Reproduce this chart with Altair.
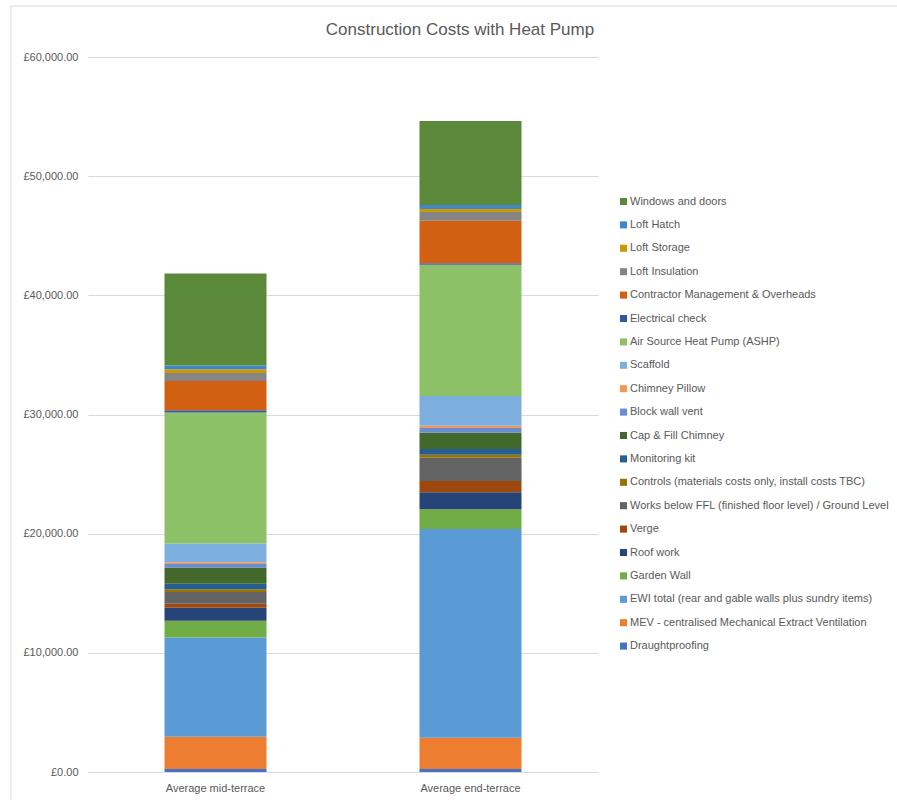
import altair as alt
import pandas as pd

# Cost components, bottom of the stack first
components = [
    "Draughtproofing",
    "MEV - centralised Mechanical Extract Ventilation",
    "EWI total (rear and gable walls plus sundry items)",
    "Garden Wall",
    "Roof work",
    "Verge",
    "Works below FFL (finished floor level) / Ground Level",
    "Controls (materials costs only, install costs TBC)",
    "Monitoring kit",
    "Cap & Fill Chimney",
    "Block wall vent",
    "Chimney Pillow",
    "Scaffold",
    "Air Source Heat Pump (ASHP)",
    "Electrical check",
    "Contractor Management & Overheads",
    "Loft Insulation",
    "Loft Storage",
    "Loft Hatch",
    "Windows and doors",
]

colors = [
    "#4472C4", "#ED7D31", "#5B9BD5", "#70AD47", "#264478",
    "#9E480E", "#636363", "#997300", "#255E91", "#43682B",
    "#698ED0", "#F1975A", "#7CAFDD", "#8CC168", "#335AA1",
    "#D26012", "#858585", "#CC9A00", "#3D87CB", "#5A8A39",
]

house_types = ["Average mid-terrace", "Average end-terrace"]

mid_terrace = [250, 2700, 8340, 1400, 1090, 335, 980, 250, 450, 1370,
               300, 140, 1570, 10990, 190, 2460, 670, 310, 310, 7720]
end_terrace = [250, 2630, 17510, 1650, 1430, 950, 1960, 250, 475, 1370,
               390, 200, 2490, 11020, 110, 3580, 720, 250, 335, 7050]

chart_title = "Construction Costs with Heat Pump"

rows = []
for house, values in zip(house_types, [mid_terrace, end_terrace]):
    for i, (comp, val) in enumerate(zip(components, values)):
        rows.append({"house": house, "component": comp, "cost": val, "idx": i})
df = pd.DataFrame(rows)

FONT = "Liberation Sans"
GREY_TEXT = "#595959"
GRID = "#D9D9D9"

bars = alt.Chart(df).mark_bar(size=102).encode(
    x=alt.X(
        "house:N",
        sort=house_types,
        title=None,
        scale=alt.Scale(paddingInner=0, paddingOuter=0),
        axis=alt.Axis(
            labelAngle=0, ticks=False, grid=False, domainColor=GRID,
            labelColor=GREY_TEXT, labelFont=FONT, labelFontSize=11,
            labelPadding=10,
        ),
    ),
    y=alt.Y(
        "cost:Q",
        stack="zero",
        title=None,
        scale=alt.Scale(domain=[0, 60000], nice=False),
        axis=alt.Axis(
            values=[0, 10000, 20000, 30000, 40000, 50000, 60000],
            labelExpr="'£' + format(datum.value, ',.2f')",
            ticks=False, domain=False, gridColor=GRID, labelColor=GREY_TEXT,
            labelFont=FONT, labelFontSize=11, labelPadding=10,
        ),
    ),
    color=alt.Color(
        "component:N",
        scale=alt.Scale(domain=components[::-1], range=colors[::-1]),
        legend=alt.Legend(
            title=None, orient="none", legendX=530, legendY=139,
            symbolType="square", symbolSize=50, symbolStrokeWidth=0,
            labelFont=FONT, labelFontSize=11, labelColor=GREY_TEXT,
            labelOffset=1, rowPadding=11.4, padding=0, labelLimit=300,
        ),
    ),
    order=alt.Order("idx:Q", sort="ascending"),
)

# Outer frame of the chart area
frame = alt.Chart(pd.DataFrame({"k": [0]})).mark_rect(
    fill=None, stroke=GRID, strokeWidth=1
).encode(
    x=alt.value(-77), x2=alt.value(820),
    y=alt.value(-51), y2=alt.value(750),
)

# Chart heading, centred over the whole chart area
heading = alt.Chart(pd.DataFrame({"t": [chart_title]})).mark_text(
    font=FONT, fontSize=17, color=GREY_TEXT, align="center", baseline="middle"
).encode(
    text="t:N", x=alt.value(372), y=alt.value(-27),
)

chart = alt.layer(frame, bars, heading).properties(
    width=510,
    height=715,
    background="white",
    padding={"left": 88, "top": 57, "right": 299, "bottom": 28},
    autosize=alt.AutoSizeParams(type="none"),
).configure_view(stroke="transparent", strokeWidth=0)

chart.save("out.html", embed_options={"renderer": "svg", "actions": False})
